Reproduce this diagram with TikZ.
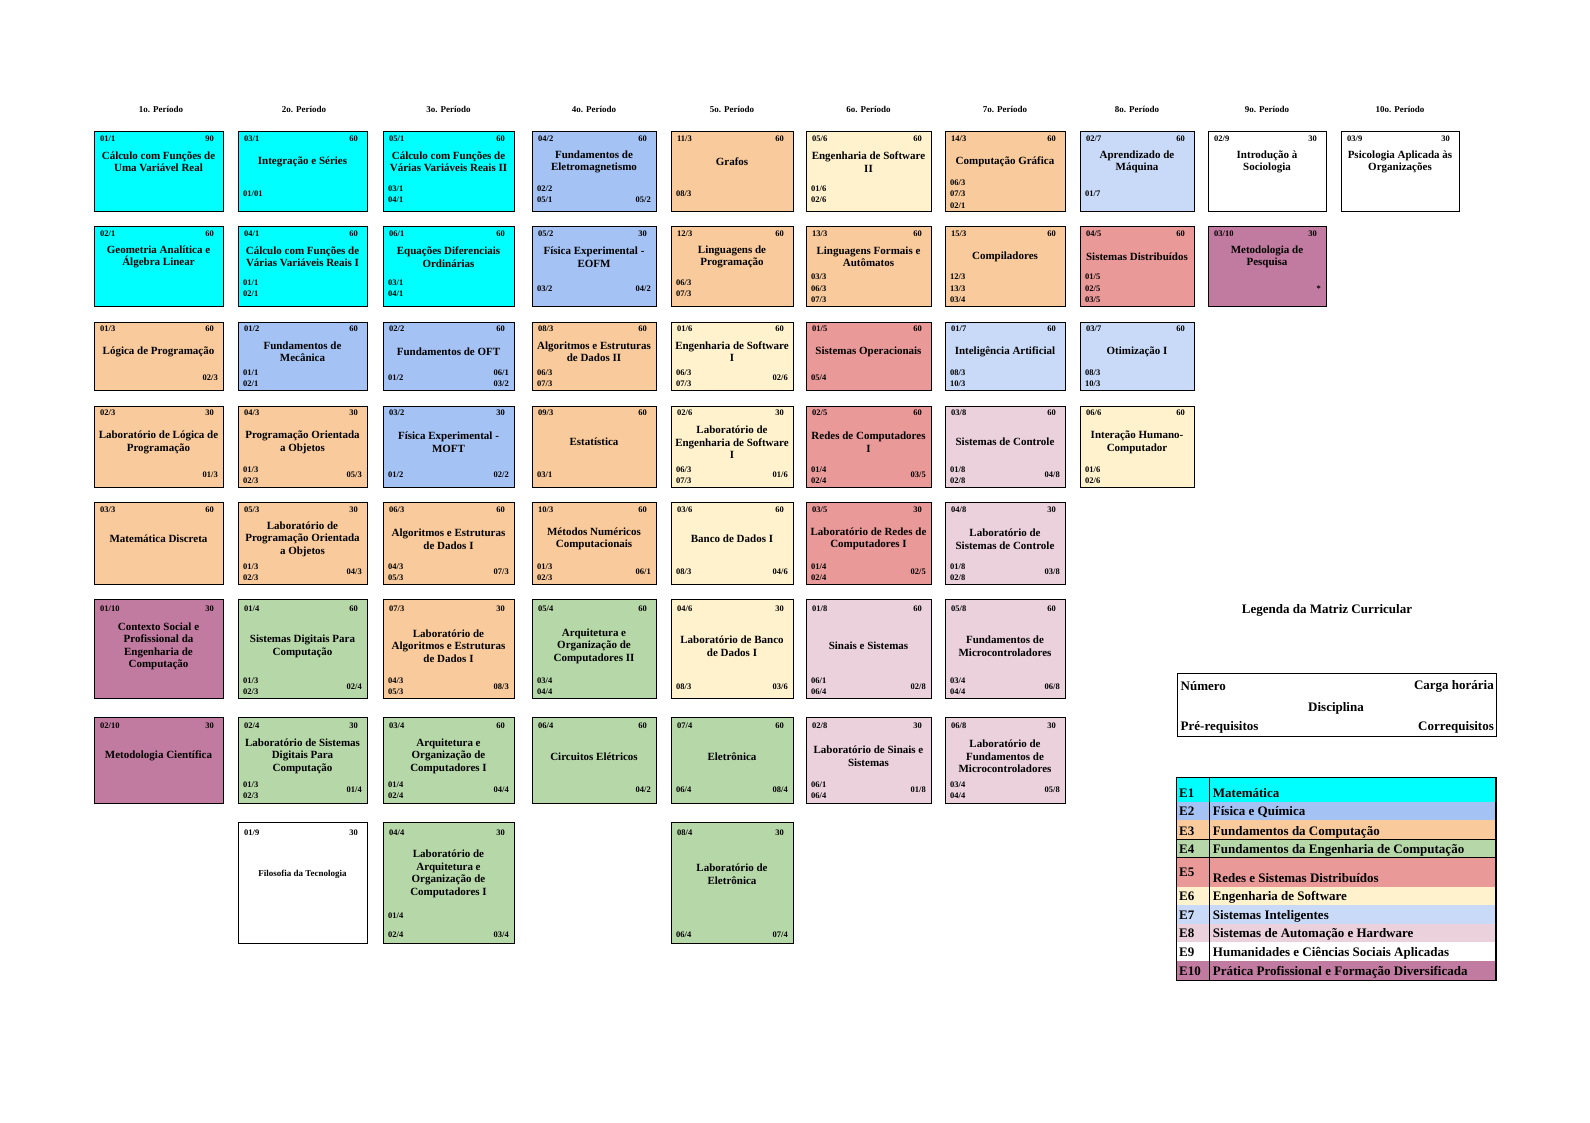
\documentclass[tikz,border=0pt]{standalone}
\usepackage{fontspec}
\setmainfont{Liberation Serif}
\usepackage{tikz}
\usepackage{xcolor}

\definecolor{catmat}{HTML}{00FFFF}
\definecolor{catfis}{HTML}{A4C2F4}
\definecolor{catcomp}{HTML}{F9CB9C}
\definecolor{cateng}{HTML}{B6D7A8}
\definecolor{catredes}{HTML}{EA9999}
\definecolor{catsoft}{HTML}{FFF2CC}
\definecolor{catint}{HTML}{C9DAF8}
\definecolor{cataut}{HTML}{EAD1DC}
\definecolor{catprat}{HTML}{C27BA0}

\tikzset{
  discbox/.style={draw, line width=1.2pt, inner sep=0pt, anchor=north west},
  disctitle/.style={font=\bfseries\fontsize{11}{12.5}\selectfont, align=center, inner sep=0pt},
  discnum/.style={font=\bfseries\fontsize{8.5}{11.3}\selectfont, inner sep=0pt},
  perhead/.style={font=\bfseries\fontsize{9}{11}\selectfont, inner sep=0pt},
  legtext/.style={font=\bfseries\fontsize{13}{15}\selectfont, inner sep=0pt},
}

% one course box: name, column, row, colour, number, hours, title, pre-req, co-req
\newcommand\disc[9]{%
  \pgfmathsetmacro\xl{{94,238,383,532,671,806,945,1080,1208,1341}[#2-1]}%
  \pgfmathsetmacro\xr{{223,367,514,656,793,931,1065,1194,1326,1459}[#2-1]}%
  \pgfmathsetmacro\yt{{131,226,322,406,502,599,717,821.5}[#3-1]}%
  \pgfmathsetmacro\yb{{211,306,390,487,584,698,803,943}[#3-1]}%
  \pgfmathsetmacro\yn{{138.5,233.3,329,412.7,510,609,726,833}[#3-1]}%
  \pgfmathsetmacro\ym{{162,257,351.6,442.2,539,646.2,756.3,874}[#3-1]}%
  \pgfmathsetmacro\yp{{194,288.3,378.2,475,572,686.5,790,925.5}[#3-1]}%
  \pgfmathsetmacro\bw{\xr-\xl}%
  \pgfmathsetmacro\bh{\yb-\yt}%
  \pgfmathsetmacro\xm{(\xl+\xr)/2}%
  \node[discbox, fill=#4, minimum width=\bw pt, minimum height=\bh pt] (#1) at (\xl,\yt) {};
  \node[discnum, anchor=west] (#1-n) at (\xl+6,\yn) {#5};
  \node[discnum, anchor=east] (#1-h) at (\xr-9,\yn) {#6};
  \node[disctitle] (#1-t) at (\xm,\ym) {#7};
  \if\relax\detokenize{#8}\relax\else
    \node[discnum, anchor=west, align=left] (#1-p) at (\xl+5,\yp) {#8};
  \fi
  \if\relax\detokenize{#9}\relax\else
    \node[discnum, anchor=east, align=right] (#1-c) at (\xr-5,\yp) {#9};
  \fi
}

\begin{document}
\begin{tikzpicture}[x=1pt,y=-1pt]
  \fill[white] (0,0) rectangle (1590,1123);
  \useasboundingbox (0,0) rectangle (1590,1123);

  % Periods
  \foreach \xc [count=\i] in {161,304,448.5,594,732,868.5,1005,1137,1267,1400}
    \node[perhead] (per\i) at (\xc,109) {\i o. Período};

  % 1o. periodo
  \disc{d011}{1}{1}{catmat}{01/1}{90}{Cálculo com Funções de\\Uma Variável Real}{}{}
  \disc{d021}{1}{2}{catmat}{02/1}{60}{Geometria Analítica e\\Álgebra Linear}{}{}
  \disc{d013}{1}{3}{catcomp}{01/3}{60}{Lógica de Programação}{}{02/3}
  \disc{d023}{1}{4}{catcomp}{02/3}{30}{Laboratório de Lógica de\\Programação}{}{01/3}
  \disc{d033}{1}{5}{catcomp}{03/3}{60}{Matemática Discreta}{}{}
  \disc{d0110}{1}{6}{catprat}{01/10}{30}{Contexto Social e\\Profissional da\\Engenharia de\\Computação}{}{}
  \disc{d0210}{1}{7}{catprat}{02/10}{30}{Metodologia Científica}{}{}

  % 2o. periodo
  \disc{d031}{2}{1}{catmat}{03/1}{60}{Integração e Séries}{01/01}{}
  \disc{d041}{2}{2}{catmat}{04/1}{60}{Cálculo com Funções de\\Várias Variáveis Reais I}{01/1\\02/1}{}
  \disc{d012}{2}{3}{catfis}{01/2}{60}{Fundamentos de\\Mecânica}{01/1\\02/1}{}
  \disc{d043}{2}{4}{catcomp}{04/3}{30}{Programação Orientada\\a Objetos}{01/3\\02/3}{05/3}
  \disc{d053}{2}{5}{catcomp}{05/3}{30}{Laboratório de\\Programação Orientada\\a Objetos}{01/3\\02/3}{04/3}
  \disc{d014}{2}{6}{cateng}{01/4}{60}{Sistemas Digitais Para\\Computação}{01/3\\02/3}{02/4}
  \disc{d024}{2}{7}{cateng}{02/4}{30}{Laboratório de Sistemas\\Digitais Para\\Computação}{01/3\\02/3}{01/4}
  \disc{d019}{2}{8}{white}{01/9}{30}{\fontsize{9}{11}\selectfont Filosofia da Tecnologia}{}{}

  % 3o. periodo
  \disc{d051}{3}{1}{catmat}{05/1}{60}{Cálculo com Funções de\\Várias Variáveis Reais II}{03/1\\04/1}{}
  \disc{d061}{3}{2}{catmat}{06/1}{60}{Equações Diferenciais\\Ordinárias}{03/1\\04/1}{}
  \disc{d022}{3}{3}{catfis}{02/2}{60}{Fundamentos de OFT}{01/2}{06/1\\03/2}
  \disc{d032}{3}{4}{catfis}{03/2}{30}{Física Experimental -\\MOFT}{01/2}{02/2}
  \disc{d063}{3}{5}{catcomp}{06/3}{60}{Algoritmos e Estruturas\\de Dados I}{04/3\\05/3}{07/3}
  \disc{d073}{3}{6}{catcomp}{07/3}{30}{Laboratório de\\Algoritmos e Estruturas\\de Dados I}{04/3\\05/3}{08/3}
  \disc{d034}{3}{7}{cateng}{03/4}{60}{Arquitetura e\\Organização de\\Computadores I}{01/4\\02/4}{04/4}
  \disc{d044}{3}{8}{cateng}{04/4}{30}{Laboratório de\\Arquitetura e\\Organização de\\Computadores I}{01/4\\[7.7pt]02/4}{\phantom{03/4}\\[7.7pt]03/4}

  % 4o. periodo
  \disc{d042}{4}{1}{catfis}{04/2}{60}{Fundamentos de\\Eletromagnetismo}{02/2\\05/1}{\phantom{05/2}\\05/2}
  \disc{d052}{4}{2}{catfis}{05/2}{30}{Física Experimental -\\EOFM}{03/2}{04/2}
  \disc{d083}{4}{3}{catcomp}{08/3}{60}{Algoritmos e Estruturas\\de Dados II}{06/3\\07/3}{}
  \disc{d093}{4}{4}{catcomp}{09/3}{60}{Estatística}{03/1}{}
  \disc{d103}{4}{5}{catcomp}{10/3}{60}{Métodos Numéricos\\Computacionais}{01/3\\02/3}{06/1}
  \disc{d054}{4}{6}{cateng}{05/4}{60}{Arquitetura e\\Organização de\\Computadores II}{03/4\\04/4}{}
  \disc{d064}{4}{7}{cateng}{06/4}{60}{Circuitos Elétricos}{}{04/2}

  % 5o. periodo
  \disc{d113}{5}{1}{catcomp}{11/3}{60}{Grafos}{08/3}{}
  \disc{d123}{5}{2}{catcomp}{12/3}{60}{Linguagens de\\Programação}{06/3\\07/3}{}
  \disc{d016}{5}{3}{catsoft}{01/6}{60}{Engenharia de Software\\I}{06/3\\07/3}{02/6}
  \disc{d026}{5}{4}{catsoft}{02/6}{30}{Laboratório de\\Engenharia de Software\\I}{06/3\\07/3}{01/6}
  \disc{d036}{5}{5}{catsoft}{03/6}{60}{Banco de Dados I}{08/3}{04/6}
  \disc{d046}{5}{6}{catsoft}{04/6}{30}{Laboratório de Banco\\de Dados I}{08/3}{03/6}
  \disc{d074}{5}{7}{cateng}{07/4}{60}{Eletrônica}{06/4}{08/4}
  \disc{d084}{5}{8}{cateng}{08/4}{30}{Laboratório de\\Eletrônica}{\phantom{06/4}\\[7.7pt]06/4}{\phantom{07/4}\\[7.7pt]07/4}

  % 6o. periodo
  \disc{d056}{6}{1}{catsoft}{05/6}{60}{Engenharia de Software\\II}{01/6\\02/6}{}
  \disc{d133}{6}{2}{catcomp}{13/3}{60}{Linguagens Formais e\\Autômatos}{03/3\\06/3\\07/3}{}
  \disc{d015}{6}{3}{catredes}{01/5}{60}{Sistemas Operacionais}{05/4}{}
  \disc{d025}{6}{4}{catredes}{02/5}{60}{Redes de Computadores\\I}{01/4\\02/4}{03/5}
  \disc{d035}{6}{5}{catredes}{03/5}{30}{Laboratório de Redes de\\Computadores I}{01/4\\02/4}{02/5}
  \disc{d018}{6}{6}{cataut}{01/8}{60}{Sinais e Sistemas}{06/1\\06/4}{02/8}
  \disc{d028}{6}{7}{cataut}{02/8}{30}{Laboratório de Sinais e\\Sistemas}{06/1\\06/4}{01/8}

  % 7o. periodo
  \disc{d143}{7}{1}{catcomp}{14/3}{60}{Computação Gráfica}{06/3\\07/3\\02/1}{}
  \disc{d153}{7}{2}{catcomp}{15/3}{60}{Compiladores}{12/3\\13/3\\03/4}{}
  \disc{d017}{7}{3}{catint}{01/7}{60}{Inteligência Artificial}{08/3\\10/3}{}
  \disc{d038}{7}{4}{cataut}{03/8}{60}{Sistemas de Controle}{01/8\\02/8}{04/8}
  \disc{d048}{7}{5}{cataut}{04/8}{30}{Laboratório de\\Sistemas de Controle}{01/8\\02/8}{03/8}
  \disc{d058}{7}{6}{cataut}{05/8}{60}{Fundamentos de\\Microcontroladores}{03/4\\04/4}{06/8}
  \disc{d068}{7}{7}{cataut}{06/8}{30}{Laboratório de\\Fundamentos de\\Microcontroladores}{03/4\\04/4}{05/8}

  % 8o. periodo
  \disc{d027}{8}{1}{catint}{02/7}{60}{Aprendizado de\\Máquina}{01/7}{}
  \disc{d045}{8}{2}{catredes}{04/5}{60}{Sistemas Distribuídos}{01/5\\02/5\\03/5}{}
  \disc{d037}{8}{3}{catint}{03/7}{60}{Otimização I}{08/3\\10/3}{}
  \disc{d066}{8}{4}{catsoft}{06/6}{60}{Interação Humano-\\Computador}{01/6\\02/6}{}

  % 9o. e 10o. periodo
  \disc{d029}{9}{1}{white}{02/9}{30}{Introdução à\\Sociologia}{}{}
  \disc{d0310}{9}{2}{catprat}{03/10}{30}{Metodologia de\\Pesquisa}{}{*}
  \disc{d039}{10}{1}{white}{03/9}{30}{Psicologia Aplicada às\\Organizações}{}{}

  % Legenda
  \node[legtext] (legtitle) at (1327,610) {Legenda da Matriz Curricular};
  \node[discbox, minimum width=319.3pt, minimum height=62.7pt] (key) at (1176.7,673) {};
  \node[legtext, anchor=west] (key-num) at (1180.5,686) {Número};
  \node[legtext, anchor=east] (key-ch) at (1494,686) {Carga horária};
  \node[legtext] (key-disc) at (1336,708.3) {Disciplina};
  \node[legtext, anchor=west] (key-pre) at (1180.5,727.3) {Pré-requisitos};
  \node[legtext, anchor=east] (key-co) at (1494,727.3) {Correquisitos};

  % Eixos
  \foreach \ya/\yz/\yl/\cl/\ek/\ds [count=\i] in {
      777.7/802.3/797.8/catmat/E1/Matemática,
      802.3/820.3/815.8/catfis/E2/Física e Química,
      820.3/839.7/835.2/catcomp/E3/Fundamentos da Computação,
      839.7/857.7/853.2/cateng/E4/Fundamentos da Engenharia de Computação,
      857.7/887/876.3/catredes/E5/Redes e Sistemas Distribuídos,
      887/905/900.5/catsoft/E6/Engenharia de Software,
      905/924.3/919.8/catint/E7/Sistemas Inteligentes,
      924.3/942.3/937.8/cataut/E8/Sistemas de Automação e Hardware,
      942.3/961/956.5/white/E9/Humanidades e Ciências Sociais Aplicadas,
      961/980.3/975.8/catprat/E10/Prática Profissional e Formação Diversificada}
  {
    \fill[\cl] (1176.7,\ya) rectangle (1496,\yz);
    \draw[line width=1pt] (1176.7,\yz) -- (1496,\yz);
    \node[legtext, anchor=base west] (leg\i-e) at (1179,\yl) {\ek};
    \node[legtext, anchor=base west] (leg\i-s) at (1212.7,\yz-4.5) {\ds};
  }
  \draw[line width=1pt] (1209.3,777.7) -- (1209.3,980.3);
  \draw[line width=1.3pt] (1176.7,777.7) rectangle (1496,980.3);
\end{tikzpicture}
\end{document}
